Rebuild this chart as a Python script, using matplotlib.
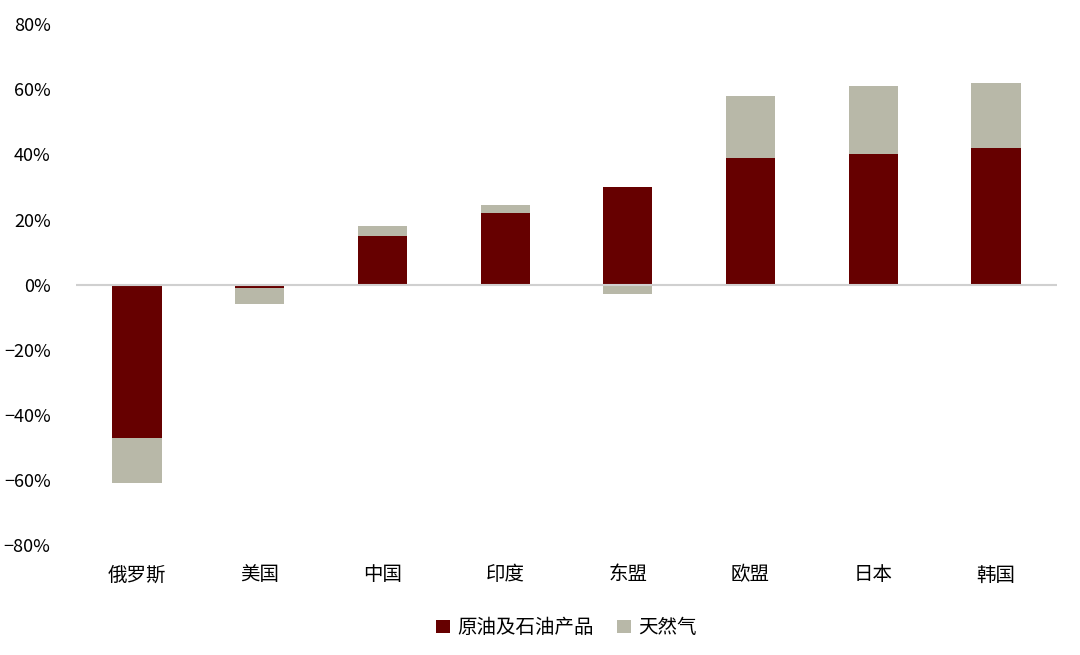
import matplotlib
matplotlib.use("Agg")
import matplotlib.pyplot as plt
from matplotlib.ticker import FuncFormatter

plt.rcParams['font.family'] = ['Noto Sans CJK SC', 'DejaVu Sans']

categories = ['俄罗斯', '美国', '中国', '印度', '东盟', '欧盟', '日本', '韩国']
oil = [-47, -1, 15, 22, 30, 39, 40, 42]
gas = [-14, -5, 3, 2.5, -3, 19, 21, 20]
yticks = [-80, -60, -40, -20, 0, 20, 40, 60, 80]

fig = plt.figure(figsize=(10.8, 6.55), dpi=100)
ax = fig.add_axes([0.070, 0.168, 0.909, 0.795])
x = list(range(len(categories)))
oil_c = '#660000'
gas_c = '#B8B8A8'
ax.bar(x, oil, width=0.4, color=oil_c, label='原油及石油产品')
gas_bottom = [o if (g >= 0) == (o >= 0) else 0 for o, g in zip(oil, gas)]
ax.bar(x, gas, width=0.4, bottom=gas_bottom, color=gas_c, label='天然气')
ax.axhline(0, color='#D0D0D0', lw=1.5, zorder=3)
ax.set_ylim(-80, 80)
ax.set_xlim(-0.5, 7.5)
ax.set_yticks(yticks)
ax.yaxis.set_major_formatter(FuncFormatter(lambda v, p: f'{int(v)}%'.replace('-', '−')))
ax.set_xticks(x)
ax.set_xticklabels(categories, fontsize=14)
ax.tick_params(axis='y', labelsize=13, length=0, pad=18)
ax.tick_params(axis='x', length=0, pad=14)
for s in ax.spines.values():
    s.set_visible(False)
ax.legend(loc='upper center', bbox_to_anchor=(0.5, -0.105), ncol=2, frameon=False,
          fontsize=14, handlelength=0.7, handleheight=0.7, columnspacing=1.2, handletextpad=0.4)
fig.savefig('out.png', dpi=100)
